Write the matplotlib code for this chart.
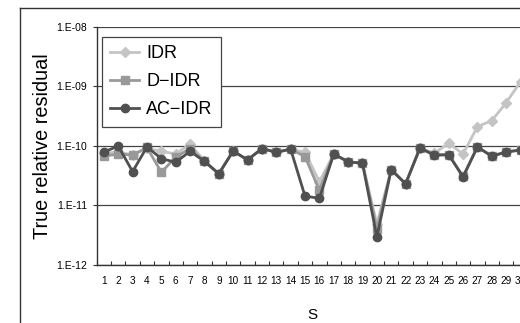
import matplotlib
matplotlib.use('Agg')
import matplotlib.pyplot as plt
from matplotlib.lines import Line2D

plt.rcParams['font.family'] = ['Liberation Sans', 'DejaVu Sans']

# data
s_vals = list(range(1, 31))
idr = [7.5e-11, 7.9e-11, 7.0e-11, 9.1e-11, 8.1e-11, 7.3e-11, 1.07e-10, 5.6e-11, 3.4e-11, 8.2e-11,
       5.8e-11, 9.0e-11, 7.8e-11, 8.8e-11, 7.8e-11, 2.5e-11, 7.3e-11, 5.4e-11, 5.1e-11, 4.9e-12,
       4.0e-11, 2.3e-11, 9.2e-11, 7.5e-11, 1.1e-10, 7.3e-11, 2.1e-10, 2.65e-10, 5.3e-10, 1.19e-09]
d_idr = [6.7e-11, 7.3e-11, 7.0e-11, 9.4e-11, 3.6e-11, 6.5e-11, 9.0e-11, 5.5e-11, 3.4e-11, 8.2e-11,
         5.8e-11, 9.0e-11, 7.8e-11, 8.8e-11, 6.6e-11, 1.8e-11, 7.3e-11, 5.4e-11, 5.1e-11, 4.0e-12,
         4.0e-11, 2.3e-11, 9.2e-11, 7.0e-11, 7.1e-11, 3.1e-11, 9.6e-11, 6.7e-11, 7.9e-11, 8.5e-11]
ac_idr = [7.9e-11, 9.9e-11, 3.7e-11, 9.6e-11, 6.1e-11, 5.3e-11, 8.1e-11, 5.5e-11, 3.4e-11, 8.2e-11,
          5.8e-11, 9.0e-11, 7.8e-11, 8.8e-11, 1.43e-11, 1.32e-11, 7.3e-11, 5.4e-11, 5.1e-11, 2.95e-12,
          4.0e-11, 2.3e-11, 9.2e-11, 7.0e-11, 7.1e-11, 3.0e-11, 9.6e-11, 6.7e-11, 7.9e-11, 8.5e-11]
y_ticks = [1e-12, 1e-11, 1e-10, 1e-09, 1e-08]
y_labels = ['1.E-12', '1.E-11', '1.E-10', '1.E-09', '1.E-08']

W, H = 520, 323
fig = plt.figure(figsize=(5.2, 3.23), dpi=100)

# plot area runs past the right edge, like the cropped original
ax = fig.add_axes([96.7 / W, 1 - 265 / H, 431 / W, 238.3 / H])

ax.plot(s_vals, idr, '-D', color='#c4c4c4', lw=2, ms=5, label='IDR', zorder=3)
ax.plot(s_vals, d_idr, '-s', color='#999999', lw=2, ms=5.5, label='D\u2212IDR', zorder=4)
ax.plot(s_vals, ac_idr, '-o', color='#505050', lw=2, ms=6, label='AC\u2212IDR', zorder=5)

ax.set_yscale('log')
ax.set_ylim(1e-12, 1e-08)
ax.set_yticks(y_ticks)
ax.set_yticklabels(y_labels, fontsize=7.5)
ax.minorticks_off()
ax.yaxis.grid(True, color='#444444', lw=0.9)
ax.tick_params(axis='y', direction='out', length=3, width=0.8, color='#333333', pad=4)

ax.set_xlim(0.5, 30.5)
ax.set_xticks(s_vals)
ax.set_xticklabels([str(v) for v in s_vals], fontsize=7.2)
ax.set_xticks([v + 0.5 for v in range(0, 30)], minor=True)
ax.tick_params(axis='x', which='major', length=0, pad=8)
ax.tick_params(axis='x', which='minor', direction='in', length=3, width=0.8, color='#333333')

for side in ['top', 'right']:
    ax.spines[side].set_visible(False)
for side in ['left', 'bottom']:
    ax.spines[side].set_color('#333333')
    ax.spines[side].set_linewidth(1)

ax.set_xlabel('S', fontsize=11, labelpad=16)
ax.set_ylabel('True relative residual', fontsize=14.3, labelpad=3)

leg = ax.legend(loc='upper left', bbox_to_anchor=(0.0123, 0.957), borderaxespad=0,
                fontsize=13, fancybox=False, framealpha=1, edgecolor='#444444',
                handlelength=1.6, handletextpad=0.4, labelspacing=0.62, borderpad=0.45)
leg.get_frame().set_linewidth(0.9)

# outer chart-area border, open to the right and bottom
x0 = 20 / W
y0 = 1 - 8 / H
fig.add_artist(Line2D([x0, x0], [0, y0], transform=fig.transFigure, color='#333333', lw=1))
fig.add_artist(Line2D([x0, 1.0], [y0, y0], transform=fig.transFigure, color='#333333', lw=1))

fig.savefig('out.png', dpi=100)
